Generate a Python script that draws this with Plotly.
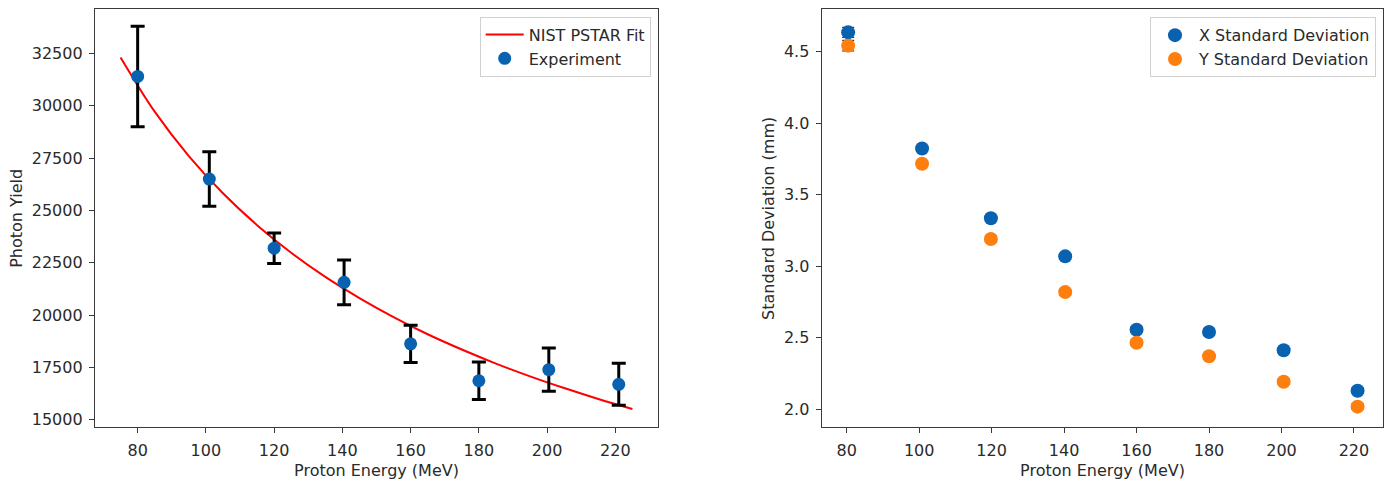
import plotly.graph_objects as go

# ---------------- data ----------------
energy = [80, 101, 120, 140.5, 160, 180, 200.5, 221]
photon_yield = [31400, 26500, 23200, 21570, 18630, 16870, 17400, 16700]
photon_err = [2400, 1300, 730, 1070, 890, 900, 1030, 1000]

fit_energy = [75, 85, 95, 105, 115, 125, 135, 145, 155, 165, 175, 185, 195, 205, 215, 225]
fit_yield = [32310, 29720, 27600, 25820, 24300, 22980, 21830, 20820, 19910,
             19090, 18360, 17690, 17080, 16520, 16000, 15520]

sd_energy = [80.4, 100.8, 119.8, 140.3, 160, 180, 200.6, 221]
x_sd = [4.635, 3.822, 3.335, 3.068, 2.555, 2.539, 2.411, 2.128]
y_sd = [4.542, 3.716, 3.189, 2.818, 2.464, 2.369, 2.191, 2.017]
x_sd_err = [0.035, 0.02, 0.02, 0.02, 0.02, 0.02, 0.02, 0.02]
y_sd_err = [0.037, 0.02, 0.02, 0.02, 0.02, 0.02, 0.02, 0.02]

x_ticks = [80, 100, 120, 140, 160, 180, 200, 220]
left_y_ticks = [15000, 17500, 20000, 22500, 25000, 27500, 30000, 32500]
right_y_ticks = [2.0, 2.5, 3.0, 3.5, 4.0, 4.5]

BLUE = "#0862b0"
ORANGE = "#ff7f0e"
TXT = "#2a2a2a"
FONT = "DejaVu Sans"
FS = 16

W, H = 1392, 481

fig = go.Figure()

fig.add_trace(go.Scatter(
    x=fit_energy, y=fit_yield, mode="lines", name="NIST PSTAR Fit",
    line=dict(color="#ff0000", width=2, shape="spline"),
    xaxis="x", yaxis="y", legend="legend", legendgroup="a"))

fig.add_trace(go.Scatter(
    x=energy, y=photon_yield, mode="markers", name="Experiment",
    marker=dict(color=BLUE, size=13),
    error_y=dict(type="data", array=photon_err, color="black", thickness=3, width=7),
    xaxis="x", yaxis="y", legend="legend", legendgroup="b"))

fig.add_trace(go.Scatter(
    x=sd_energy, y=x_sd, mode="markers", name="X Standard Deviation",
    marker=dict(color=BLUE, size=14),
    error_y=dict(type="data", array=x_sd_err, color="black", thickness=1, width=6),
    xaxis="x2", yaxis="y2", legend="legend2", legendgroup="c"))

fig.add_trace(go.Scatter(
    x=sd_energy, y=y_sd, mode="markers", name="Y Standard Deviation",
    marker=dict(color=ORANGE, size=14),
    error_y=dict(type="data", array=y_sd_err, color="black", thickness=1, width=6),
    xaxis="x2", yaxis="y2", legend="legend2", legendgroup="d"))

ydom = [(481 - 429) / H, (481 - 9.5) / H]

axis_common = dict(
    showline=True, linecolor="#3a3a3a", linewidth=1.3, mirror=True,
    ticks="outside", ticklen=5, tickcolor="#3a3a3a", tickwidth=1.3,
    showgrid=False, zeroline=False, ticklabelstandoff=3,
    tickfont=dict(family=FONT, size=FS, color=TXT),
)
title_font = dict(family=FONT, size=FS, color=TXT)

legend_common = dict(
    xanchor="right", yanchor="top",
    bgcolor="rgba(255,255,255,0.8)", bordercolor="#d0d0d0", borderwidth=1,
    font=dict(family=FONT, size=FS, color=TXT),
    traceorder="grouped", tracegroupgap=0, itemwidth=38,
)

fig.update_layout(
    width=W, height=H,
    margin=dict(l=0, r=0, t=0, b=0),
    paper_bgcolor="white", plot_bgcolor="white",
    font=dict(family=FONT, size=FS, color=TXT),
    xaxis=dict(domain=[95 / W, 658 / W], range=[67.5, 232.5],
               tickvals=x_ticks, anchor="y",
               title=dict(text="Proton Energy (MeV)", standoff=6, font=title_font),
               **axis_common),
    yaxis=dict(domain=ydom, range=[14650, 34600], tickvals=left_y_ticks,
               tickformat="d", anchor="x",
               title=dict(text="Photon Yield", standoff=5, font=title_font),
               **axis_common),
    xaxis2=dict(domain=[821.7 / W, 1383.3 / W], range=[73.1, 228.1],
                tickvals=x_ticks, anchor="y2",
                title=dict(text="Proton Energy (MeV)", standoff=6, font=title_font),
                **axis_common),
    yaxis2=dict(domain=ydom, range=[1.873, 4.795], tickvals=right_y_ticks,
                tickformat=".1f", anchor="x2",
                title=dict(text="Standard Deviation (mm)", standoff=5, font=title_font),
                **axis_common),
    legend=dict(x=650.7 / W, y=(481 - 16.7) / H, **legend_common),
    legend2=dict(x=1376 / W, y=(481 - 17.3) / H, **legend_common),
)

fig.write_html("out.html")
